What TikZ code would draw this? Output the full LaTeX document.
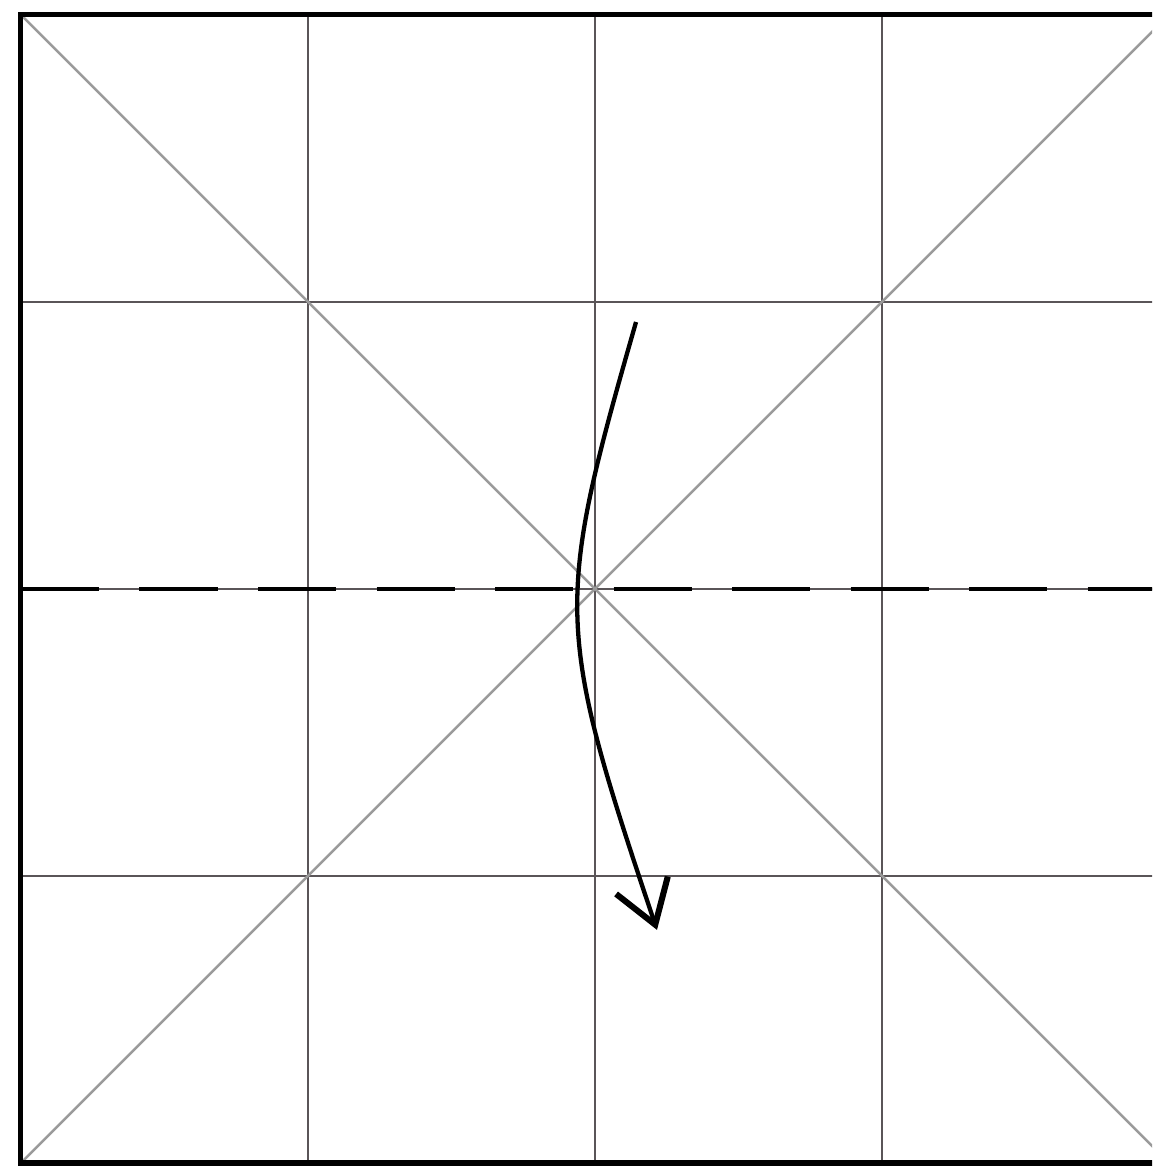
\documentclass[tikz,border=0pt]{standalone}
\usepackage{tikz}
\usepackage{xcolor}
\usetikzlibrary{arrows.meta, calc}
\definecolor{Crease_Gray}{HTML}{5A5558}
\definecolor{Diag_Gray}{HTML}{9A9A9A}

\begin{document}
\begin{tikzpicture}[scale=2]
    % Page size and clipping
    \useasboundingbox (-0.073,-0.014) rectangle (3.941,4.052);
    \clip (-0.073,-0.014) rectangle (3.941,4.052);

    % Draw grid
    \foreach \x in {1,2,3} {
        \draw[Crease_Gray, line width=0.4pt] (\x,0) -- (\x,4);
        \draw[Crease_Gray, line width=0.4pt] (0,\x) -- (4,\x);
    }

    % Draw diagonals
    \draw[Diag_Gray, line width=0.5pt] (0,4) -- (4,0);
    \draw[Diag_Gray, line width=0.5pt] (0,0) -- (4,4);

    % Valley fold line
    \draw[black, line width=0.85pt, dash pattern=on 15.5pt off 8pt] (0,2) -- (4,2);

    % Fold arrow
    \coordinate (from) at (2.143,2.930);
    \coordinate (to) at (2.216,0.812);
    \draw[-{Straight Barb[length=2.9mm, width=3.8mm, line width=1.2pt]}, line width=0.85pt]
        (from) .. controls (1.861,1.947) and (1.859,1.872) .. (to);

    % Draw outer border
    \draw[line width=1pt] (0,0) rectangle (4,4);
\end{tikzpicture}
\end{document}
